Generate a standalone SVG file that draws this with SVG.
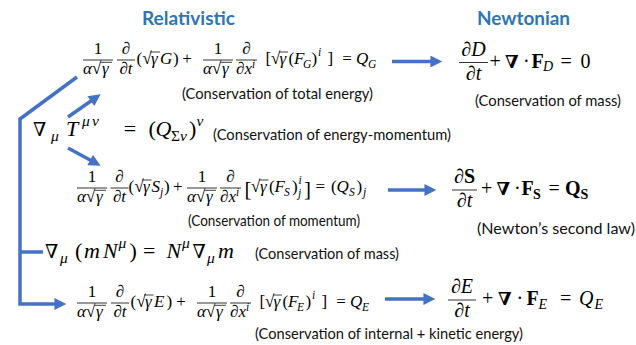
<svg xmlns="http://www.w3.org/2000/svg" width="636" height="345" viewBox="0 0 636 345">
<defs>
<style>
.m{font-family:"Liberation Serif","DejaVu Serif",serif;font-size:17px;fill:#000}
.L{font-size:22px}
.N{font-size:20px}
.B{font-size:21px}
.i{font-style:italic}
.bf{font-weight:bold}
.s{font-size:11.5px}
.s2{font-size:14px}
.s3{font-size:15.5px}
.dv{font-family:"DejaVu Serif",serif}
.nb{font-size:18px}
.nl{font-size:19px}
.bar{stroke:#000;stroke-width:0.8}
.ov{stroke:#000;stroke-width:0.75}
.lbl{font-family:Lato,"Liberation Sans",sans-serif;font-size:15px;fill:#111}
.ttl{font-family:Lato,"Liberation Sans",sans-serif;font-weight:bold;font-size:19px;fill:#2E75B6}
.c{stroke:#4472C4;stroke-width:3.5;fill:none}
</style>
<marker id="ah" viewBox="0 0 10 10" refX="3" refY="5" markerWidth="3.6" markerHeight="3.4" orient="auto" markerUnits="strokeWidth">
<path d="M0,0 L10,5 L0,10 z" fill="#4472C4"/>
</marker>
<g id="fA">
<line class="bar" x1="0" y1="0" x2="30" y2="0"/>
<text class="m" x="15" y="-6.5" text-anchor="middle">1</text>
<text class="m" y="14"><tspan x="0" class="i">α</tspan><tspan x="9">√</tspan><tspan x="19" class="i">γ</tspan></text>
<line class="ov" x1="17.5" y1="2.3" x2="29" y2="2.3"/>
</g>
<g id="fT">
<line class="bar" x1="0" y1="0" x2="18" y2="0"/>
<text class="m i" x="9" y="-6.5" text-anchor="middle">∂</text>
<text class="m i" x="9" y="14" text-anchor="middle">∂t</text>
</g>
<g id="fX">
<line class="bar" x1="0" y1="0" x2="21" y2="0"/>
<text class="m i" x="10.5" y="-6.5" text-anchor="middle">∂</text>
<text class="m i" y="14"><tspan x="0">∂x</tspan><tspan x="16" y="8" class="s">i</tspan></text>
</g>
</defs>

<g id="titles">
<text class="ttl" x="142" y="25" textLength="93" lengthAdjust="spacingAndGlyphs">Relativistic</text>
<text class="ttl" x="477" y="25" textLength="93" lengthAdjust="spacingAndGlyphs">Newtonian</text>
</g>

<g id="connectors">
<polyline class="c" points="77,77 20,119 20,304 58,304" marker-end="url(#ah)"/>
<line class="c" x1="20" y1="252" x2="43" y2="252"/>
<line class="c" x1="68" y1="117" x2="93.8" y2="99" marker-end="url(#ah)"/>
<line class="c" x1="68" y1="148" x2="93.3" y2="161.8" marker-end="url(#ah)"/>
<line class="c" x1="392" y1="61.5" x2="434" y2="61.5" marker-end="url(#ah)"/>
<line class="c" x1="388" y1="190" x2="428" y2="190" marker-end="url(#ah)"/>
<line class="c" x1="385" y1="299" x2="427" y2="299" marker-end="url(#ah)"/>
</g>

<g id="eq-energy-rel">
<use href="#fA" x="83" y="60"/>
<use href="#fT" x="117" y="60"/>
<use href="#fA" x="203" y="60"/>
<use href="#fX" x="236" y="60"/>
<text class="m" y="64.25"><tspan x="136.5">(</tspan><tspan x="142.5">√</tspan><tspan x="151" class="i">γ</tspan><tspan x="160" class="i">G</tspan><tspan x="173">)</tspan><tspan x="182.2">+</tspan><tspan x="265.5">[</tspan><tspan x="271">√</tspan><tspan x="279.5" class="i">γ</tspan><tspan x="288.5">(</tspan><tspan x="294" class="i">F</tspan><tspan x="303" y="67.75" class="i s">G</tspan><tspan x="311.5" y="64.25">)</tspan><tspan x="318" y="56" class="i s">i</tspan><tspan x="327.5" y="64.25">]</tspan><tspan x="342.2">=</tspan><tspan x="356" class="i">Q</tspan><tspan x="368" y="67.75" class="i s">G</tspan></text>
<line class="ov" x1="150" y1="52" x2="160" y2="52"/>
<line class="ov" x1="279" y1="52" x2="288" y2="52"/>
<text class="lbl" x="182" y="98.5" textLength="191" lengthAdjust="spacingAndGlyphs">(Conservation of total energy)</text>
</g>

<g id="eq-mass-newton">
<line class="bar" x1="459" y1="62.5" x2="488" y2="62.5"/>
<text class="m N i" x="473.5" y="56" text-anchor="middle">∂D</text>
<text class="m N i" x="473.5" y="79.5" text-anchor="middle">∂t</text>
<text class="m N" y="67.5"><tspan x="489.4">+</tspan><tspan x="505" class="dv bf nb">∇</tspan><tspan x="523">·</tspan><tspan x="531.5" class="bf">F</tspan><tspan x="543" y="71" class="i s2">D</tspan><tspan x="560.4" y="67.5">=</tspan><tspan x="580.5">0</tspan></text>
<text class="lbl" x="475" y="106" textLength="146" lengthAdjust="spacingAndGlyphs">(Conservation of mass)</text>
</g>

<g id="eq-energy-momentum">
<text class="m L" y="136"><tspan x="33" class="dv nl">∇</tspan><tspan x="51" y="141" class="i s3">μ</tspan><tspan x="66" y="136" class="i">T</tspan><tspan x="82" y="126" class="i s3">μ</tspan><tspan x="92" class="i s3">ν</tspan><tspan x="123.8" y="136">=</tspan><tspan x="148.5">(</tspan><tspan x="155.5" class="i">Q</tspan><tspan x="171" y="141" class="s3">Σ</tspan><tspan class="i s3">ν</tspan><tspan x="189" y="136">)</tspan><tspan x="196.5" y="126" class="i s3">ν</tspan></text>
<text class="lbl" x="213" y="140" textLength="238" lengthAdjust="spacingAndGlyphs">(Conservation of energy-momentum)</text>
</g>

<g id="eq-momentum-rel">
<use href="#fA" x="77" y="188"/>
<use href="#fT" x="110.5" y="188"/>
<use href="#fA" x="187" y="188"/>
<use href="#fX" x="220" y="188"/>
<text class="m" y="192.25"><tspan x="128.5">(</tspan><tspan x="134.5">√</tspan><tspan x="143" class="i">γ</tspan><tspan x="151.5" class="i">S</tspan><tspan x="160" y="195.75" class="i s">j</tspan><tspan x="164" y="192.25">)</tspan><tspan x="173">+</tspan><tspan x="244.5" y="195.5" class="B">[</tspan><tspan x="251" y="192.25">√</tspan><tspan x="260" class="i">γ</tspan><tspan x="269">(</tspan><tspan x="274.5" class="i">F</tspan><tspan x="284" y="195.75" class="i s">S</tspan><tspan x="292" y="192.25">)</tspan><tspan x="298" y="196.5" class="i s">j</tspan><tspan x="298.5" y="184" class="i s">i</tspan><tspan x="304" y="195.5" class="B">]</tspan><tspan x="315.5" y="192.25">=</tspan><tspan x="331">(</tspan><tspan x="336.5" class="i">Q</tspan><tspan x="349" y="195.75" class="i s">S</tspan><tspan x="356.5" y="192.25">)</tspan><tspan x="363" y="195.75" class="i s">j</tspan></text>
<line class="ov" x1="142" y1="180" x2="151.5" y2="180"/>
<line class="ov" x1="259" y1="180" x2="268.5" y2="180"/>
<text class="lbl" x="188" y="226" textLength="172" lengthAdjust="spacingAndGlyphs">(Conservation of momentum)</text>
</g>

<g id="eq-momentum-newton">
<line class="bar" x1="452" y1="190" x2="477" y2="190"/>
<text class="m N" x="464.5" y="183" text-anchor="middle"><tspan class="i">∂</tspan><tspan class="bf">S</tspan></text>
<text class="m N i" x="464.5" y="207" text-anchor="middle">∂t</text>
<text class="m N" y="195"><tspan x="481">+</tspan><tspan x="496.5" class="dv bf nb">∇</tspan><tspan x="514">·</tspan><tspan x="521.5" class="bf">F</tspan><tspan x="533" y="198.5" class="bf s2">S</tspan><tspan x="548.4" y="195">=</tspan><tspan x="565" class="bf">Q</tspan><tspan x="580.5" y="198.5" class="bf s2">S</tspan></text>
<text class="lbl" x="477" y="234" textLength="158" lengthAdjust="spacingAndGlyphs">(Newton’s second law)</text>
</g>

<g id="eq-mass-rel">
<text class="m L" y="258"><tspan x="45" class="dv nl">∇</tspan><tspan x="60" y="263" class="i s3">μ</tspan><tspan x="75" y="258">(</tspan><tspan x="84" class="i">m</tspan><tspan x="103" class="i">N</tspan><tspan x="118.5" y="248" class="i s3">μ</tspan><tspan x="129.5" y="258">)</tspan><tspan x="143">=</tspan><tspan x="166.5" class="i">N</tspan><tspan x="182" y="248" class="i s3">μ</tspan><tspan x="192.5" y="258" class="dv nl">∇</tspan><tspan x="207" y="263" class="i s3">μ</tspan><tspan x="218" y="258" class="i">m</tspan></text>
<text class="lbl" x="255" y="258.5" textLength="144" lengthAdjust="spacingAndGlyphs">(Conservation of mass)</text>
</g>

<g id="eq-energy2-rel">
<use href="#fA" x="77" y="303"/>
<use href="#fT" x="111" y="303"/>
<use href="#fA" x="197" y="303"/>
<use href="#fX" x="230" y="303"/>
<text class="m" y="307.25"><tspan x="130.5">(</tspan><tspan x="136.5">√</tspan><tspan x="145" class="i">γ</tspan><tspan x="154" class="i">E</tspan><tspan x="166.5">)</tspan><tspan x="176.2">+</tspan><tspan x="259.5">[</tspan><tspan x="265">√</tspan><tspan x="273.5" class="i">γ</tspan><tspan x="282.5">(</tspan><tspan x="288" class="i">F</tspan><tspan x="297" y="310.75" class="i s">E</tspan><tspan x="305.5" y="307.25">)</tspan><tspan x="312" y="299" class="i s">i</tspan><tspan x="321.5" y="307.25">]</tspan><tspan x="336.2">=</tspan><tspan x="350" class="i">Q</tspan><tspan x="362" y="310.75" class="i s">E</tspan></text>
<line class="ov" x1="144" y1="295" x2="153.5" y2="295"/>
<line class="ov" x1="273" y1="295" x2="282" y2="295"/>
<text class="lbl" x="255" y="339" textLength="268" lengthAdjust="spacingAndGlyphs">(Conservation of internal + kinetic energy)</text>
</g>

<g id="eq-energy-newton">
<line class="bar" x1="448" y1="300" x2="476" y2="300"/>
<text class="m N i" x="462" y="293" text-anchor="middle">∂E</text>
<text class="m N i" x="462" y="317" text-anchor="middle">∂t</text>
<text class="m N" y="305"><tspan x="481.9">+</tspan><tspan x="498" class="dv bf nb">∇</tspan><tspan x="516.5">·</tspan><tspan x="526.5" class="bf">F</tspan><tspan x="538.5" y="308.5" class="i s2">E</tspan><tspan x="560" y="305">=</tspan><tspan x="579" class="i">Q</tspan><tspan x="594.5" y="308.5" class="i s2">E</tspan></text>
</g>
</svg>
